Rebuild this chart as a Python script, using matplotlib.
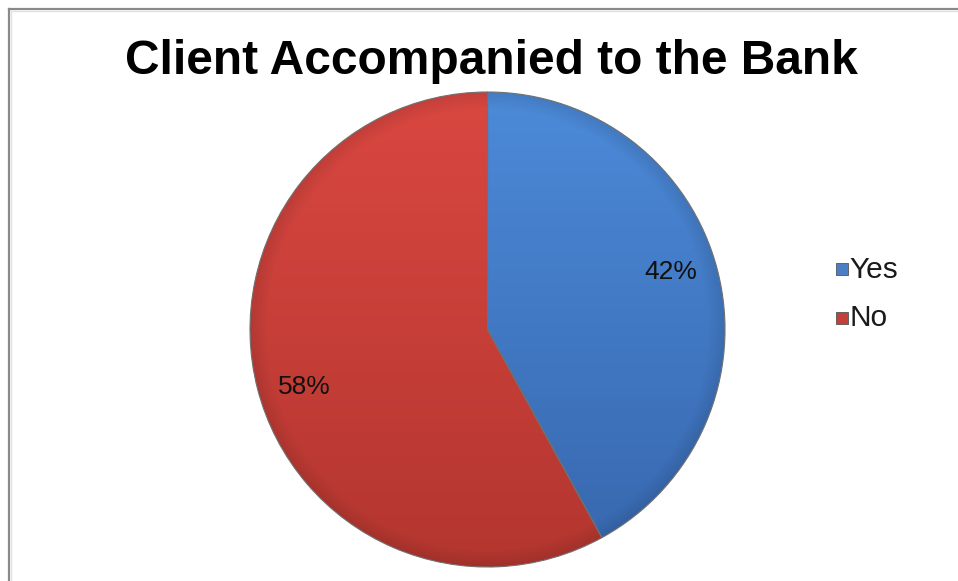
import numpy as np
import matplotlib
matplotlib.use("Agg")
import matplotlib.pyplot as plt
from matplotlib.colors import to_rgb
from matplotlib.patches import Rectangle
from matplotlib.lines import Line2D

# Data
title = "Client Accompanied to the Bank"
categories = ["Yes", "No"]
shares = [42, 58]
top_colors = ["#4C8AD8", "#DA4741"]
bottom_colors = ["#3767AE", "#B3362F"]
legend_colors = ["#4A7FC6", "#C43E3A"]

W, H = 958, 581
plt.rcParams["font.family"] = ["Liberation Sans", "DejaVu Sans"]

fig = plt.figure(figsize=(W / 100, H / 100), dpi=100)
fig.patch.set_facecolor("white")


def fx(px):
    return px / W


def fy(py):
    return 1 - py / H


# Chart frame (left and top edges)
fig.add_artist(Line2D([fx(8.5), fx(8.5)], [fy(8.5), 0], color="#8a8a8a", lw=1.6))
fig.add_artist(Line2D([fx(8.5), 1], [fy(8.5), fy(8.5)], color="#8a8a8a", lw=1.6))
fig.add_artist(Line2D([fx(10.5), fx(10.5)], [fy(10.5), 0], color="#e2e2e2", lw=1.0))
fig.add_artist(Line2D([fx(10.5), 1], [fy(10.5), fy(10.5)], color="#e2e2e2", lw=1.0))

# Title
fig.text(fx(491.5), fy(73.5), title, ha="center", va="baseline",
         fontsize=34.5, fontweight="bold", color="#000000")

# Pie axes: centre (487.5, 329.5) px, radius 237.5 px
cx, cy, R = 487.5, 329.5, 237.5
pad = 1.02
ax = fig.add_axes([fx(cx - R * pad), fy(cy + R * pad), 2 * R * pad / W, 2 * R * pad / H])
ax.set_axis_off()

wedges, _ = ax.pie(shares, startangle=90, counterclock=False, radius=1.0,
                   colors=legend_colors,
                   wedgeprops=dict(edgecolor="#707070", linewidth=0.8))
ax.set_xlim(-pad, pad)
ax.set_ylim(-pad, pad)
ax.set_aspect("equal")

# Shaded fill for each slice: vertical gradient plus a slightly darker rim
n = 400
xs = np.linspace(-1, 1, n)
X, Y = np.meshgrid(xs, xs)
Rr = np.sqrt(X ** 2 + Y ** 2)
t = (1 - Y) / 2  # 0 at top, 1 at bottom
rim = 1 - 0.10 * np.clip((Rr - 0.93) / 0.07, 0, 1)
for w, ct, cb in zip(wedges, top_colors, bottom_colors):
    a, b = np.array(to_rgb(ct)), np.array(to_rgb(cb))
    img = (a[None, None, :] * (1 - t[..., None]) + b[None, None, :] * t[..., None])
    img = img * rim[..., None]
    im = ax.imshow(img, extent=[-1, 1, -1, 1], origin="lower", zorder=w.get_zorder() + 0.1,
                   interpolation="bilinear")
    im.set_clip_path(w)
    w.set_facecolor("none")
    w.set_zorder(w.get_zorder() + 0.2)

# Percentage labels inside the slices
for w, v in zip(wedges, shares):
    theta = np.deg2rad((w.theta1 + w.theta2) / 2 + 3)
    r = 0.81
    ax.text(r * np.cos(theta), r * np.sin(theta), f"{v}%", ha="center", va="center",
            fontsize=19, color="#111111", zorder=5)

# Legend
legend_rows = [(269, 278), (318, 326.5)]
for (sq_y, base_y), lab, col in zip(legend_rows, categories, legend_colors):
    s = 12
    fig.add_artist(Rectangle((fx(835.5), fy(sq_y + s / 2)), s / W, s / H,
                             facecolor=col, edgecolor="#555555", linewidth=0.6))
    fig.text(fx(849), fy(base_y), lab, ha="left", va="baseline",
             fontsize=21.5, color="#1a1a1a")

fig.savefig("out.png", dpi=100, facecolor="white")
